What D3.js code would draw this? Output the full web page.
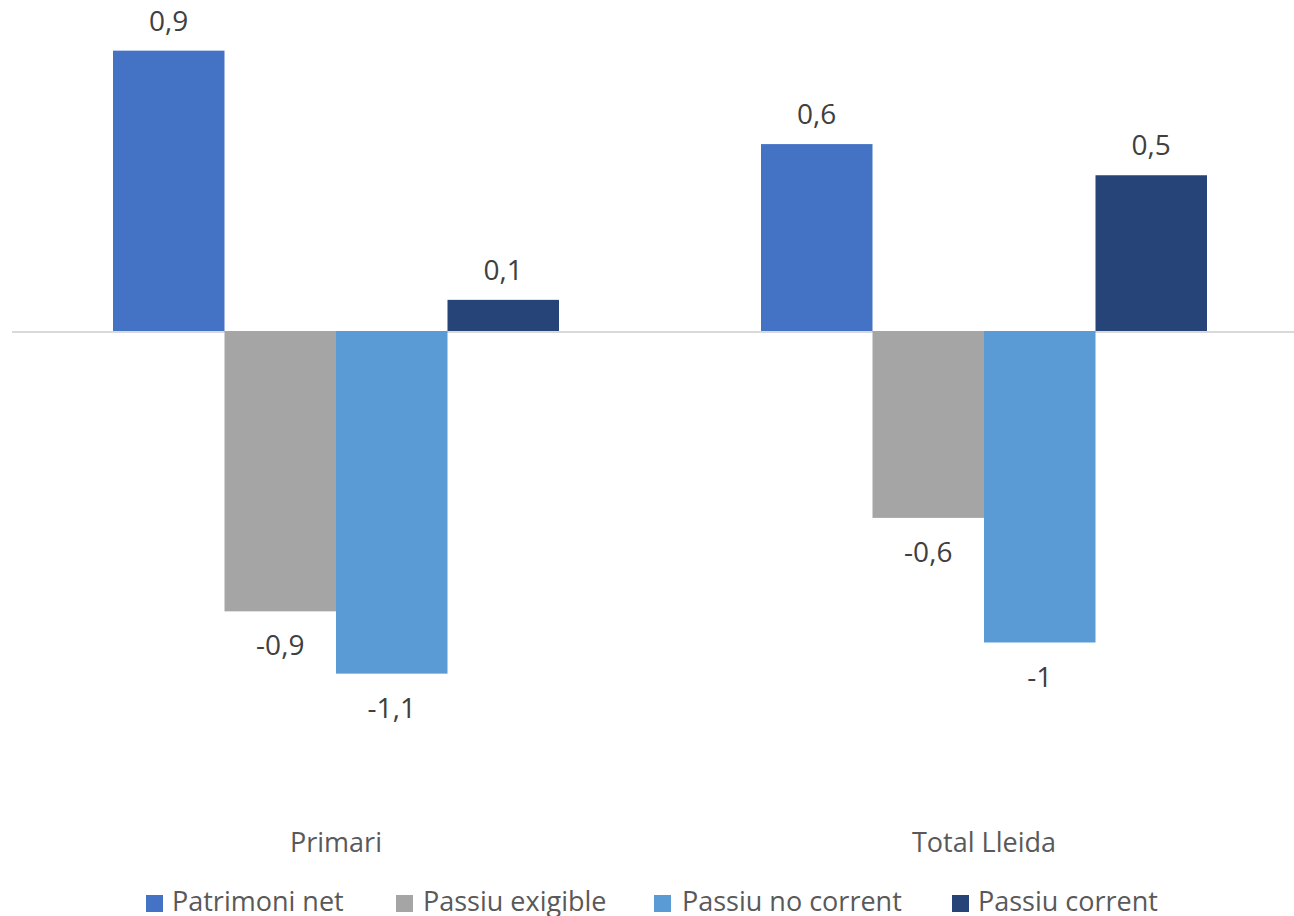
<!DOCTYPE html>
<html><head><meta charset="utf-8">
<script src="https://cdn.jsdelivr.net/npm/d3@7"></script>
<style>html,body{margin:0;padding:0;background:#fff;overflow:hidden}</style>
</head><body>
<svg id="c" width="1294" height="916"></svg>
<script>
const categories = ["Primari", "Total Lleida"];
const series = ["Patrimoni net", "Passiu exigible", "Passiu no corrent", "Passiu corrent"];
const patrimoniNet = [0.9, 0.6];
const passiuExigible = [-0.9, -0.6];
const passiuNoCorrent = [-1.1, -1.0];
const passiuCorrent = [0.1, 0.5];
const colors = ["#4472C4", "#A5A5A5", "#5B9BD5", "#264478"];
const valueLabels = [["0,9","0,6"],["-0,9","-0,6"],["-1,1","-1"],["0,1","0,5"]];

const seriesValues = [patrimoniNet, passiuExigible, passiuNoCorrent, passiuCorrent];
const data = [];
categories.forEach((c, ci) => series.forEach((s, si) => data.push({c, s, si, v: seriesValues[si][ci], label: valueLabels[si][ci]})));

const svg = d3.select("#c");
const font = "'Open Sans', 'Noto Sans', sans-serif";
const unit = 311.5, zeroY = 331;
const y = d3.scaleLinear().domain([-1.4, 1.0]).range([zeroY + 1.4*unit, zeroY - unit]);
const x0 = d3.scaleBand().domain(categories).range([12, 1308]).padding(0);
const x1 = d3.scaleBand().domain(series).range([101, 547]).padding(0);

// zero line
svg.append("line").attr("x1", 12).attr("x2", 1308).attr("y1", y(0)+1).attr("y2", y(0)+1)
  .attr("stroke", "#D9D9D9").attr("stroke-width", 2);

const g = svg.append("g");
g.selectAll("rect").data(data).join("rect")
  .attr("x", d => x0(d.c) + x1(d.s))
  .attr("width", x1.bandwidth())
  .attr("y", d => d.v >= 0 ? y(d.v) : y(0))
  .attr("height", d => Math.abs(y(d.v) - y(0)))
  .attr("fill", d => colors[d.si]);

g.selectAll("text.v").data(data).join("text").attr("class","v")
  .attr("x", d => x0(d.c) + x1(d.s) + x1.bandwidth()/2)
  .attr("y", d => d.v >= 0 ? y(d.v) - 20 : y(d.v) + 44)
  .attr("text-anchor", "middle")
  .attr("font-family", font).attr("font-size", 28).attr("fill", "#404040")
  .text(d => d.label);

// category labels
svg.selectAll("text.cat").data(categories).join("text").attr("class","cat")
  .attr("x", d => x0(d) + x0.bandwidth()/2)
  .attr("y", 852)
  .attr("text-anchor", "middle")
  .attr("font-family", font).attr("font-size", 27).attr("fill", "#595959")
  .text(d => d);

// legend
const legendX = [146, 396, 654, 952];
const legendTextX = [172, 423, 682, 978];
const lg = svg.selectAll("g.leg").data(series).join("g").attr("class","leg");
lg.append("rect").attr("x", (d,i) => legendX[i]).attr("y", 895).attr("width", 17).attr("height", 17).attr("fill", (d,i) => colors[i]);
lg.append("text").attr("x", (d,i) => legendTextX[i]).attr("y", 911)
  .attr("font-family", font).attr("font-size", 27).attr("fill", "#595959")
  .text(d => d);
</script>
</body></html>
